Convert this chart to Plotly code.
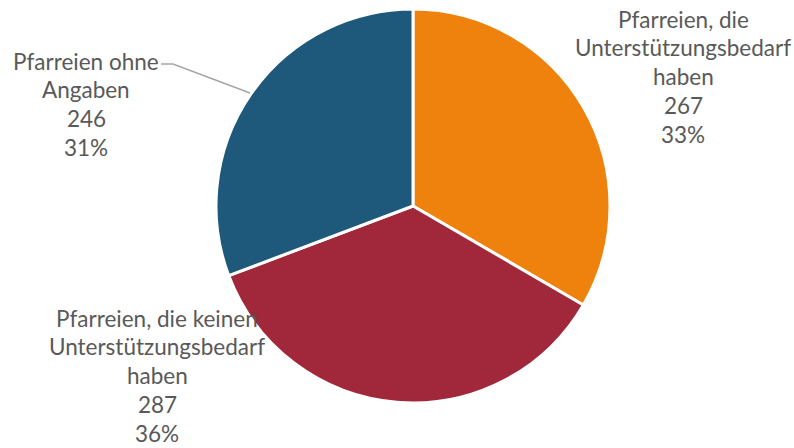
import plotly.graph_objects as go

# ---- data ----
category_lines = [
    ["Pfarreien, die", "Unterstützungsbedarf", "haben"],
    ["Pfarreien, die keinen", "Unterstützungsbedarf", "haben"],
    ["Pfarreien ohne", "Angaben"],
]
values = [267, 287, 246]
colors = ["#EF820C", "#A1283A", "#1E587A"]

W, H = 794, 448
total = sum(values)
percents = [f"{round(v / total * 100)}%" for v in values]
names = [" ".join(l) for l in category_lines]

fig = go.Figure()
fig.add_trace(go.Pie(
    labels=names,
    values=values,
    sort=False,
    direction="clockwise",
    rotation=0,
    marker=dict(colors=colors, line=dict(color="white", width=3)),
    textinfo="none",
    hoverinfo="label+value+percent",
    showlegend=False,
    domain=dict(x=[216 / W, 610 / W], y=[(H - 403) / H, (H - 9) / H]),
))

# label placement (pixel centres of each label block)
label_pos = [(683, 19), (157, 318), (86, 61)]
line_step = 28.8
font = dict(family="Lato, Carlito, sans-serif", size=22.5, color="#595959")
annotations = []
for i, (cx, cy) in enumerate(label_pos):
    lines = category_lines[i] + [str(values[i]), percents[i]]
    for j, t in enumerate(lines):
        y = cy + j * line_step
        annotations.append(dict(
            x=cx / W, y=1 - y / H, xref="paper", yref="paper",
            text=t, showarrow=False, xanchor="center", yanchor="middle",
            font=font,
        ))

# leader line for the "ohne Angaben" label
leader = [(161, 64), (173, 64), (250, 93)]
path = "M " + " L ".join(f"{x / W},{1 - y / H}" for x, y in leader)
shapes = [dict(type="path", path=path, xref="paper", yref="paper",
               line=dict(color="#A6A6A6", width=1.5))]

fig.update_layout(
    width=W, height=H,
    margin=dict(l=0, r=0, t=0, b=0),
    paper_bgcolor="white", plot_bgcolor="white",
    annotations=annotations,
    shapes=shapes,
)

fig.write_html(
    "out.html",
    config={"displayModeBar": False},
    post_script="document.body.style.margin='0';document.body.style.padding='0';",
)
